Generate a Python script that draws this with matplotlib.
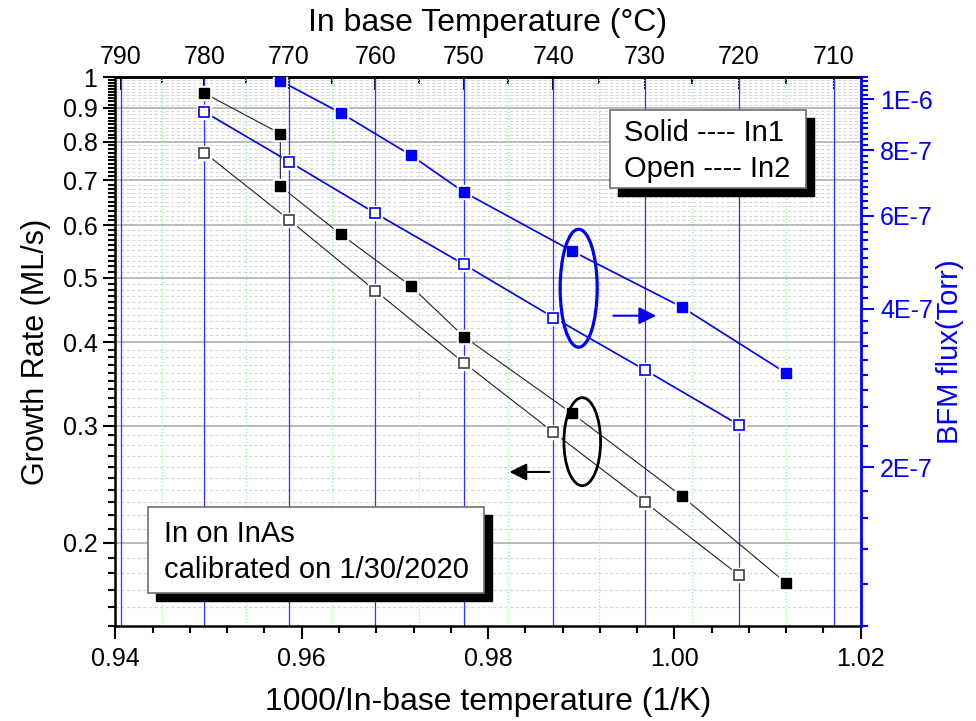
import numpy as np
import matplotlib
matplotlib.use('Agg')
import matplotlib.pyplot as plt
from matplotlib.patches import Ellipse, Rectangle
from matplotlib.ticker import FixedLocator, FixedFormatter, NullFormatter

plt.rcParams['font.family'] = ['Liberation Sans', 'DejaVu Sans']

# x: 1000/T (1/K)
x_in1 = [0.9495, 0.9577, 0.9577, 0.9642, 0.9717, 0.9774, 0.9890, 1.0008, 1.0120]
gr_in1 = [0.947, 0.823, 0.686, 0.581, 0.486, 0.408, 0.313, 0.235, 0.174]
x_in2 = [0.94953, 0.95863, 0.96791, 0.97737, 0.98702, 0.99686, 1.00690]
gr_in2 = [0.771, 0.611, 0.478, 0.373, 0.293, 0.230, 0.179]

x_bfm1 = [0.9577, 0.9642, 0.9717, 0.9774, 0.9890, 1.0008, 1.0120]
bfm_in1 = [1.083e-6, 9.41e-7, 7.83e-7, 6.66e-7, 5.15e-7, 4.03e-7, 3.02e-7]
bfm_in2 = [9.46e-7, 7.61e-7, 6.07e-7, 4.86e-7, 3.85e-7, 3.06e-7, 2.41e-7]

# axis ticks
bottom_ticks = [0.94, 0.96, 0.98, 1.00, 1.02]
bottom_labels = ['0.94', '0.96', '0.98', '1.00', '1.02']
left_ticks = [0.2, 0.3, 0.4, 0.5, 0.6, 0.7, 0.8, 0.9, 1.0]
left_labels = ['0.2', '0.3', '0.4', '0.5', '0.6', '0.7', '0.8', '0.9', '1']
right_ticks = [2e-7, 4e-7, 6e-7, 8e-7, 1e-6]
right_labels = ['2E-7', '4E-7', '6E-7', '8E-7', '1E-6']
top_major = [790, 780, 770, 760, 750, 740, 730, 720, 710]
top_minor = [785, 775, 765, 755, 745, 735, 725, 715]

BLUE = '#0000ff'


def c_to_x(t):
    return 1000.0 / (np.asarray(t, dtype=float) + 273.15)


def x_to_c(x):
    x = np.asarray(x, dtype=float)
    with np.errstate(divide='ignore', invalid='ignore'):
        return 1000.0 / x - 273.15


fig = plt.figure(figsize=(9.76, 7.21), dpi=100)
ax = fig.add_axes([0.1183, 0.1318, 0.7635, 0.7610])
ax.set_xlim(0.94, 1.02)
ax.set_yscale('log')
ax.set_ylim(0.15, 1.0)

# grid
ax.set_axisbelow(True)
ax.yaxis.grid(True, which='major', color='#a8a8a8', lw=1.1)
ax.yaxis.grid(True, which='minor', color='#d8d8d8', lw=0.8, ls=(0, (3, 2)))
for t in top_major:
    ax.axvline(c_to_x(t), color='#3030ff', lw=0.9, zorder=1)
for t in top_minor:
    ax.axvline(c_to_x(t), color='#90ee90', lw=0.8, ls=(0, (1, 2)), zorder=1)

ms = 7
# black series (growth rate)
ax.plot(x_in1, gr_in1, color='#222222', lw=0.8, zorder=3)
ax.plot(x_in1, gr_in1, 's', ms=ms + 3, mfc='white', mec='white', zorder=4)
ax.plot(x_in1, gr_in1, 's', ms=ms, mfc='black', mec='black', zorder=5)
ax.plot(x_in2, gr_in2, color='#222222', lw=0.8, zorder=3)
ax.plot(x_in2, gr_in2, 's', ms=ms + 3, mfc='white', mec='white', zorder=4)
ax.plot(x_in2, gr_in2, 's', ms=ms, mfc='white', mec='#404040', mew=1.2, zorder=5)

ax.xaxis.set_major_locator(FixedLocator(bottom_ticks))
ax.xaxis.set_major_formatter(FixedFormatter(bottom_labels))
ax.xaxis.set_minor_locator(FixedLocator(np.arange(0.944, 1.02, 0.004)))
ax.yaxis.set_major_locator(FixedLocator(left_ticks))
ax.yaxis.set_major_formatter(FixedFormatter(left_labels))
ax.yaxis.set_minor_locator(FixedLocator([v / 100 for v in range(15, 100) if v % 10]))
ax.yaxis.set_minor_formatter(NullFormatter())
ax.tick_params(which='both', direction='out', width=1.5, labelsize=18, top=False, right=False)
ax.tick_params(which='major', length=9)
ax.tick_params(which='minor', length=5)
ax.tick_params(axis='x', pad=6)
ax.tick_params(axis='y', pad=4)
for s in ['left', 'bottom', 'top']:
    ax.spines[s].set_linewidth(1.8)
ax.spines['right'].set_visible(False)
ax.set_xlabel('1000/In-base temperature (1/K)', fontsize=23, labelpad=12)
ax.set_ylabel('Growth Rate (ML/s)', fontsize=22, labelpad=8)

# top temperature axis
top = ax.secondary_xaxis('top', functions=(x_to_c, c_to_x))
top.xaxis.set_major_locator(FixedLocator(top_major))
top.xaxis.set_major_formatter(FixedFormatter([str(t) for t in top_major]))
top.xaxis.set_minor_locator(FixedLocator(top_minor))
top.tick_params(which='both', direction='in', width=1.5, labelsize=18, pad=6)
top.tick_params(which='major', length=9)
top.tick_params(which='minor', length=5)
top.spines['top'].set_linewidth(1.8)
top.set_xlabel('In base Temperature (\u00b0C)', fontsize=23, labelpad=10)

# right BFM axis
ax2 = ax.twinx()
ax2.set_yscale('log')
ax2.set_ylim(1e-7, 1.1e-6)
ax2.plot(x_bfm1, bfm_in1, color=BLUE, lw=1.2, zorder=3)
ax2.plot(x_bfm1, bfm_in1, 's', ms=ms + 3, mfc='white', mec='white', zorder=4)
ax2.plot(x_bfm1, bfm_in1, 's', ms=ms, mfc=BLUE, mec=BLUE, zorder=5)
ax2.plot(x_in2, bfm_in2, color=BLUE, lw=1.2, zorder=3)
ax2.plot(x_in2, bfm_in2, 's', ms=ms + 3, mfc='white', mec='white', zorder=4)
ax2.plot(x_in2, bfm_in2, 's', ms=ms, mfc='white', mec=BLUE, mew=1.2, zorder=5)

ax2.yaxis.set_major_locator(FixedLocator(right_ticks))
ax2.yaxis.set_major_formatter(FixedFormatter(right_labels))
ax2.yaxis.set_minor_locator(FixedLocator([v * 1e-8 for v in range(10, 111, 2) if v % 20]))
ax2.yaxis.set_minor_formatter(NullFormatter())
ax2.tick_params(axis='y', which='both', direction='out', width=1.5, color=BLUE,
                labelcolor=BLUE, labelsize=18, pad=5)
ax2.tick_params(axis='y', which='major', length=9)
ax2.tick_params(axis='y', which='minor', length=5)
for s in ['left', 'bottom', 'top']:
    ax2.spines[s].set_visible(False)
ax2.spines['right'].set_color(BLUE)
ax2.spines['right'].set_linewidth(2)
ax2.set_ylabel('BFM flux(Torr)', fontsize=21, color=BLUE, labelpad=2)

# annotations
T = ax2.transAxes
ax2.add_patch(Ellipse((0.6216, 0.6155), 0.0497, 0.215, transform=T, fill=False,
                      ec=BLUE, lw=2.3, zorder=6))
ax2.annotate('', xy=(0.7293, 0.5655), xytext=(0.6645, 0.5655), xycoords=T, textcoords=T,
             arrowprops=dict(arrowstyle='-|>', color=BLUE, lw=1.5, mutation_scale=26))
ax2.add_patch(Ellipse((0.6264, 0.3359), 0.0492, 0.1604, transform=T, fill=False,
                      ec='black', lw=2.0, zorder=6))
ax2.annotate('', xy=(0.525, 0.2807), xytext=(0.5861, 0.2807), xycoords=T, textcoords=T,
             arrowprops=dict(arrowstyle='-|>', color='black', lw=1.5, mutation_scale=26))


def shadow_box(x0, y0, x1, y1):
    dx, dy = 8 / 745.2, 8 / 548.7
    ax2.add_patch(Rectangle((x0 + dx, y0 - dy), x1 - x0, y1 - y0, transform=T,
                            fc='black', ec='black', zorder=7, clip_on=False))
    ax2.add_patch(Rectangle((x0, y0), x1 - x0, y1 - y0, transform=T,
                            fc='white', ec='#707070', lw=1.2, zorder=8, clip_on=False))


shadow_box(0.6636, 0.7988, 0.9262, 0.9404)
ax2.text(0.6824, 0.8839, 'Solid ---- In1', transform=T, fontsize=21, va='baseline', zorder=9)
ax2.text(0.6824, 0.8189, 'Open ---- In2', transform=T, fontsize=21, va='baseline', zorder=9)

shadow_box(0.0440, 0.0607, 0.4949, 0.2163)
ax2.text(0.0651, 0.1536, 'In on InAs', transform=T, fontsize=21, va='baseline', zorder=9)
ax2.text(0.0651, 0.0869, 'calibrated on 1/30/2020', transform=T, fontsize=21,
         va='baseline', zorder=9)

fig.savefig('out.png', dpi=100)
